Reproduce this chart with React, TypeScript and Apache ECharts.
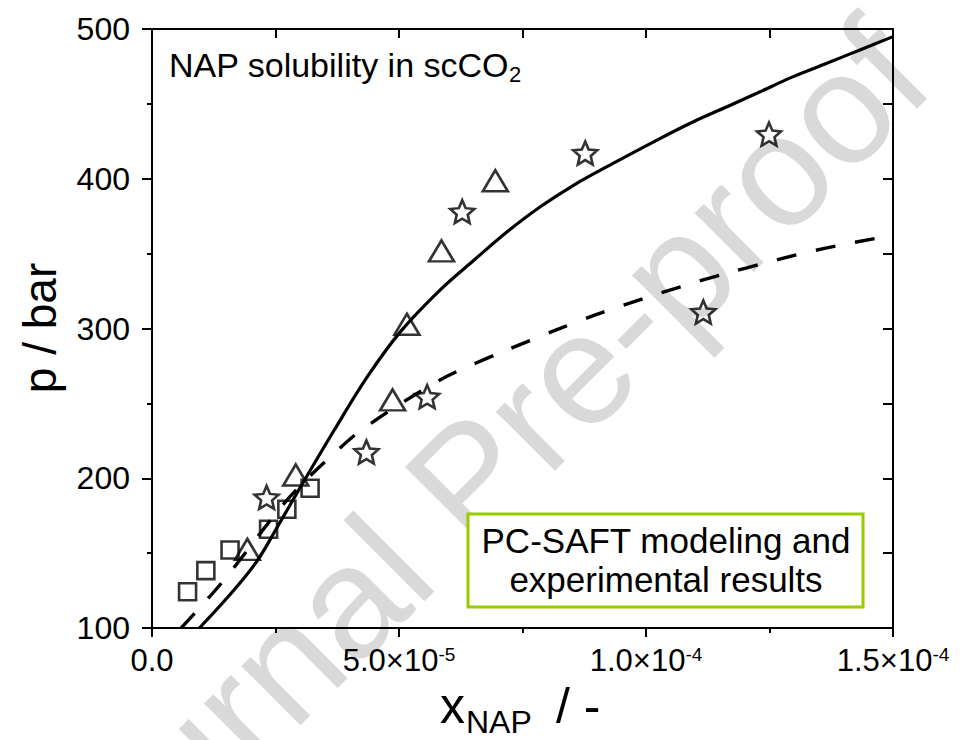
import React, { useEffect, useRef } from "react";
import * as echarts from "echarts";

// ---- data (x in mole fraction, p in bar) ----
const squareX = [0.72e-5, 1.09e-5, 1.58e-5, 2.36e-5, 2.73e-5, 3.2e-5];
const squareP = [124.2, 138.3, 152.1, 165.9, 179.3, 193.3];

const triangleX = [1.93e-5, 2.91e-5, 4.87e-5, 5.16e-5, 5.86e-5, 6.95e-5];
const triangleP = [152.5, 202.2, 252.3, 302.8, 351.8, 398.7];

const starX = [2.32e-5, 4.34e-5, 5.57e-5, 6.28e-5, 8.77e-5, 11.16e-5, 12.49e-5];
const starP = [187.2, 217.5, 254.5, 378, 417.2, 311, 429.8];

const solidX = [0.96e-5, 1.66e-5, 2.14e-5, 2.54e-5, 3.01e-5, 3.69e-5, 4.36e-5, 5.03e-5, 5.84e-5, 6.52e-5, 7.19e-5, 7.86e-5, 8.54e-5, 9.21e-5, 10.29e-5, 10.96e-5, 11.64e-5, 12.31e-5, 12.98e-5, 13.66e-5, 14.33e-5, 15.0e-5];
const solidP = [100, 125.4, 145.4, 167.6, 194.4, 232.2, 267.8, 297.9, 326, 345.7, 364.6, 381.3, 395.8, 408.1, 427, 438.1, 448.1, 458.1, 468.2, 477.1, 486, 494.9];

const dashX = [0.59e-5, 1.43e-5, 2.51e-5, 2.95e-5, 3.69e-5, 4.29e-5, 5.71e-5, 6.55e-5, 7.76e-5, 8.61e-5, 9.45e-5, 11.1e-5, 12.06e-5, 13.35e-5, 14.68e-5, 15.0e-5];
const dashP = [100, 131, 176.6, 193.3, 216.7, 233.4, 263.4, 276.8, 293.4, 304.5, 314.6, 331.9, 340.7, 351.6, 360.4, 362];

const xTickLabels = ["{a|0.0}", "{a|5.0×10}{s|-5}", "{a|1.0×10}{s|-4}", "{a|1.5×10}{s|-4}"];
const yTickLabels = ["100", "200", "300", "400", "500"];

const FONT = "'Liberation Sans', Arial, Helvetica, sans-serif";

function starPath(): string {
  const R = 10;
  const r = 4.6;
  const pts: string[] = [];
  for (let i = 0; i < 10; i++) {
    const ang = -Math.PI / 2 + (i * Math.PI) / 5;
    const rad = i % 2 === 0 ? R : r;
    pts.push(`${(R + rad * Math.cos(ang)).toFixed(3)} ${(R + rad * Math.sin(ang)).toFixed(3)}`);
  }
  return "path://M" + pts.join(" L") + " Z";
}

const zip = (xs: number[], ys: number[]) => xs.map((x, i) => [x, ys[i]]);

export default function App() {
  const ref = useRef<HTMLDivElement>(null);
  useEffect(() => {
    const chart = echarts.init(ref.current!, null, { renderer: "svg" });
    const hollow = { color: "rgba(0,0,0,0)", borderColor: "#000", borderWidth: 2.6 };
    const txt = (text: string, x: number, y: number, fontSize: number, extra: any = {}) => ({
      type: "text",
      z: 100,
      x,
      y,
      ...extra,
      style: { text, fontSize, fontFamily: FONT, fill: "#000", align: "left", verticalAlign: "middle", ...(extra.style || {}) },
    });
    chart.setOption({
      animation: false,
      backgroundColor: "#fff",
      textStyle: { fontFamily: FONT },
      grid: { left: 152, right: 69, top: 29, bottom: 112, containLabel: false },
      xAxis: [
        {
          type: "value",
          min: 0,
          max: 1.5e-4,
          interval: 5e-5,
          axisLine: { show: true, onZero: false, lineStyle: { color: "#000", width: 2 } },
          axisTick: { show: true, inside: false, length: 9, lineStyle: { color: "#000", width: 2 } },
          minorTick: { show: true, splitNumber: 2, length: 5, lineStyle: { color: "#000", width: 2 } },
          splitLine: { show: false },
          axisLabel: {
            margin: 17,
            color: "#000",
            fontFamily: FONT,
            formatter: (_v: number, i: number) => xTickLabels[i] ?? "",
            rich: {
              a: { fontSize: 31, lineHeight: 31, fontFamily: FONT, color: "#000" },
              s: { fontSize: 19, lineHeight: 19, verticalAlign: "top", fontFamily: FONT, color: "#000" },
            },
          },
        },
        {
          type: "value",
          position: "top",
          min: 0,
          max: 1.5e-4,
          interval: 2.5e-5,
          axisLine: { show: true, onZero: false, lineStyle: { color: "#000", width: 2 } },
          axisTick: { show: true, inside: true, length: 9, lineStyle: { color: "#000", width: 2 } },
          axisLabel: { show: false },
          splitLine: { show: false },
        },
      ],
      yAxis: [
        {
          type: "value",
          min: 100,
          max: 500,
          interval: 100,
          axisLine: { show: true, onZero: false, lineStyle: { color: "#000", width: 2 } },
          axisTick: { show: true, inside: false, length: 10, lineStyle: { color: "#000", width: 2 } },
          minorTick: { show: true, splitNumber: 2, length: 5, lineStyle: { color: "#000", width: 2 } },
          splitLine: { show: false },
          axisLabel: {
            margin: 22,
            color: "#000",
            fontSize: 32,
            fontFamily: FONT,
            formatter: (_v: number, i: number) => yTickLabels[i] ?? "",
          },
        },
        {
          type: "value",
          position: "right",
          min: 100,
          max: 500,
          interval: 50,
          axisLine: { show: true, onZero: false, lineStyle: { color: "#000", width: 2 } },
          axisTick: { show: true, inside: true, length: 10, lineStyle: { color: "#000", width: 2 } },
          axisLabel: { show: false },
          splitLine: { show: false },
        },
      ],
      graphic: [
        {
          type: "text",
          z: -10,
          x: 468,
          y: 480,
          rotation: Math.PI / 4,
          silent: true,
          style: {
            text: "Journal Pre-proof",
            fontSize: 158,
            fontFamily: FONT,
            fill: "#d9d9d9",
            align: "center",
            verticalAlign: "middle",
          },
        },
        {
          type: "text",
          x: 169,
          y: 65,
          z: 100,
          style: {
            text: "{a|NAP solubility in scCO}{b|2}",
            verticalAlign: "middle",
            align: "left",
            fill: "#000",
            rich: {
              a: { fontSize: 34, lineHeight: 40, fontFamily: FONT, fill: "#000" },
              b: { fontSize: 22, lineHeight: 22, verticalAlign: "bottom", fontFamily: FONT, fill: "#000" },
            },
          },
        },
        {
          type: "rect",
          z: 100,
          shape: { x: 468, y: 514, width: 395, height: 93 },
          style: { fill: "#fff", stroke: "#99cc00", lineWidth: 3 },
        },
        txt("PC-SAFT modeling and", 666, 540, 35, { z: 101, style: { align: "center" } }),
        txt("experimental results", 666, 579, 35, { z: 101, style: { align: "center" } }),
        txt("p / bar", 40, 328, 46, { rotation: Math.PI / 2, style: { align: "center" } }),
        txt("x", 440, 706, 50),
        txt("NAP", 466, 721.5, 32),
        txt("/ -", 556, 706, 50),
      ],
      series: [
        {
          name: "PC-SAFT solid",
          type: "line",
          data: zip(solidX, solidP),
          smooth: 0.35,
          showSymbol: false,
          lineStyle: { color: "#000", width: 3.2 },
          z: 3,
        },
        {
          name: "PC-SAFT dashed",
          type: "line",
          data: zip(dashX, dashP),
          smooth: 0.35,
          showSymbol: false,
          lineStyle: { color: "#000", width: 3.4, type: [20, 20] },
          z: 3,
        },
        {
          name: "squares",
          type: "scatter",
          data: zip(squareX, squareP),
          symbol: "rect",
          symbolSize: 17,
          itemStyle: hollow,
          z: 4,
        },
        {
          name: "triangles",
          type: "scatter",
          data: zip(triangleX, triangleP),
          symbol: "triangle",
          symbolSize: [25, 21],
          itemStyle: hollow,
          z: 4,
        },
        {
          name: "stars",
          type: "scatter",
          data: zip(starX, starP),
          symbol: starPath(),
          symbolSize: [24, 23],
          itemStyle: hollow,
          z: 4,
        },
      ],
    });
    return () => chart.dispose();
  }, []);
  return (
    <div
      ref={ref}
      style={{ position: "fixed", left: 0, top: 0, width: 962, height: 740, background: "#fff" }}
    />
  );
}
